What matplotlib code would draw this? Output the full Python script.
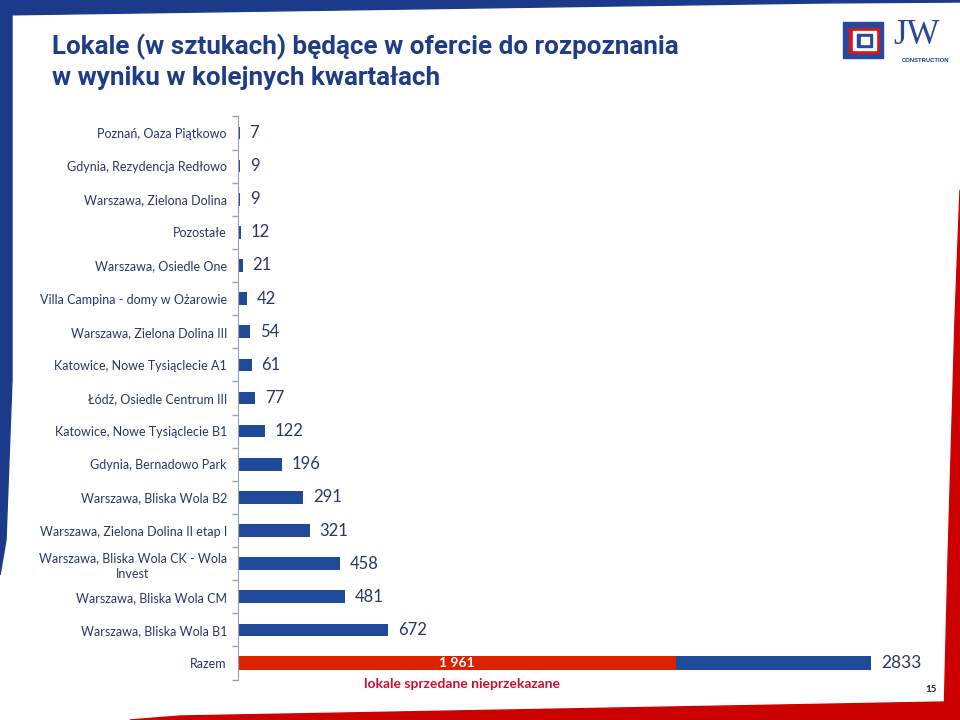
import numpy as np
import matplotlib
matplotlib.use("Agg")
import matplotlib.pyplot as plt
from matplotlib.patches import Polygon, Rectangle

# data
categories = [
    "Poznań, Oaza Piątkowo",
    "Gdynia, Rezydencja Redłowo",
    "Warszawa, Zielona Dolina",
    "Pozostałe",
    "Warszawa, Osiedle One",
    "Villa Campina - domy w Ożarowie",
    "Warszawa, Zielona Dolina III",
    "Katowice, Nowe Tysiąclecie A1",
    "Łódź, Osiedle Centrum III",
    "Katowice, Nowe Tysiąclecie B1",
    "Gdynia, Bernadowo Park",
    "Warszawa, Bliska Wola B2",
    "Warszawa, Zielona Dolina II etap I",
    "Warszawa, Bliska Wola CK - Wola\nInvest",
    "Warszawa, Bliska Wola CM",
    "Warszawa, Bliska Wola B1",
    "Razem",
]
values = [7, 9, 9, 12, 21, 42, 54, 61, 77, 122, 196, 291, 321, 458, 481, 672]
total = 2833
sold = 1961
sold_label = "1 961"

BLUE = "#1f4a9a"
RED = "#dd2200"
FRAME_BLUE = "#1b3a8a"
FRAME_RED = "#cc0000"
NAVY = "#2a3566"

W, H = 960, 720
fig = plt.figure(figsize=(9.6, 7.2), dpi=100)

# background layer in pixel coordinates (slide frame, logo)
bg = fig.add_axes([0, 0, 1, 1], zorder=0)
bg.set_xlim(0, W)
bg.set_ylim(H, 0)
bg.axis("off")
bg.add_patch(Polygon([(0, 0), (960, 0), (960, 2), (820, 3), (0, 15)], color=FRAME_BLUE))
bg.add_patch(Polygon([(0, 0), (12, 0), (12, 380), (6, 540), (0, 575)], color=FRAME_BLUE))
bg.add_patch(Polygon([(960, 190), (960, 720), (944, 720), (948, 560), (955, 320)], color=FRAME_RED))
bg.add_patch(Polygon([(130, 720), (180, 716), (945, 702), (960, 700), (960, 720)], color=FRAME_RED))

# logo
bg.add_patch(Rectangle((843, 22), 40, 36, color="#2748a0"))
bg.add_patch(Rectangle((849, 28), 30, 25, color="#d11a1a"))
bg.add_patch(Rectangle((853, 31), 23, 19, color="white"))
bg.add_patch(Rectangle((857, 34), 15, 13, color="#2748a0"))
bg.add_patch(Rectangle((861, 37), 8, 7, color="white"))
bg.text(917, 36, "JW", family="Liberation Serif", fontsize=25, color="#2748a0",
        ha="center", va="center")
bg.text(926, 60, "CONSTRUCTION", family="Liberation Sans", fontsize=4.2,
        weight="bold", color="#1b3a8a", ha="center", va="center")

# title
title_font = ["Roboto", "DejaVu Sans"]
fig.text(52 / W, 1 - 47 / H, "Lokale (w sztukach) będące w ofercie do rozpoznania",
         family=title_font, weight="bold", fontsize=18.7, color="#1f3c88", va="center")
fig.text(52 / W, 1 - 78 / H, "w wyniku w kolejnych kwartałach",
         family=title_font, weight="bold", fontsize=18.7, color="#1f3c88", va="center")

# chart
ax = fig.add_axes([238 / W, 1 - 679.6 / H, 633 / W, 563.2 / H], zorder=2)
ax.patch.set_alpha(0)
ypos = np.arange(len(categories))
ax.barh(ypos[:-1], values, height=0.38, color=BLUE)
ax.barh(ypos[-1], total, height=0.42, color=BLUE)
ax.barh(ypos[-1], sold, height=0.42, color=RED)

ax.set_xlim(0, total)
ax.set_ylim(len(categories) - 0.5, -0.5)

for y, v in zip(ypos, values):
    ax.annotate(str(v), (v, y), xytext=(7, 0), textcoords="offset points",
                ha="left", va="center", family="Lato", fontsize=12, color=NAVY)
ax.annotate(str(total), (total, ypos[-1]), xytext=(7, 0), textcoords="offset points",
            ha="left", va="center", family="Lato", fontsize=12.5, color=NAVY,
            annotation_clip=False)
ax.text(sold / 2, ypos[-1], sold_label, ha="center", va="center", family="Lato",
        weight="bold", fontsize=10, color="white")

ax.set_yticks(ypos)
ax.set_yticklabels(categories, family="Lato", fontsize=9, color=NAVY)
for lbl in ax.get_yticklabels():
    lbl.set_multialignment("center")
    lbl.set_linespacing(1.3)
ax.set_yticks(np.arange(-0.5, len(categories)), minor=True)
ax.tick_params(axis="y", which="major", length=0, pad=8)
ax.tick_params(axis="y", which="minor", length=4, color="#9aa0b0", width=1)
ax.set_xticks([])
for side in ["top", "right", "bottom"]:
    ax.spines[side].set_visible(False)
ax.spines["left"].set_color("#9aa0b0")

fig.text(462 / W, 1 - 684 / H, "lokale sprzedane nieprzekazane", family="Lato",
         weight="bold", fontsize=10, color="#c8102e", ha="center", va="center")
fig.text(931 / W, 1 - 689 / H, "15", family="Lato", weight="bold", fontsize=7,
         color="#222222", ha="center", va="center")

plt.savefig("out.png", dpi=100)
